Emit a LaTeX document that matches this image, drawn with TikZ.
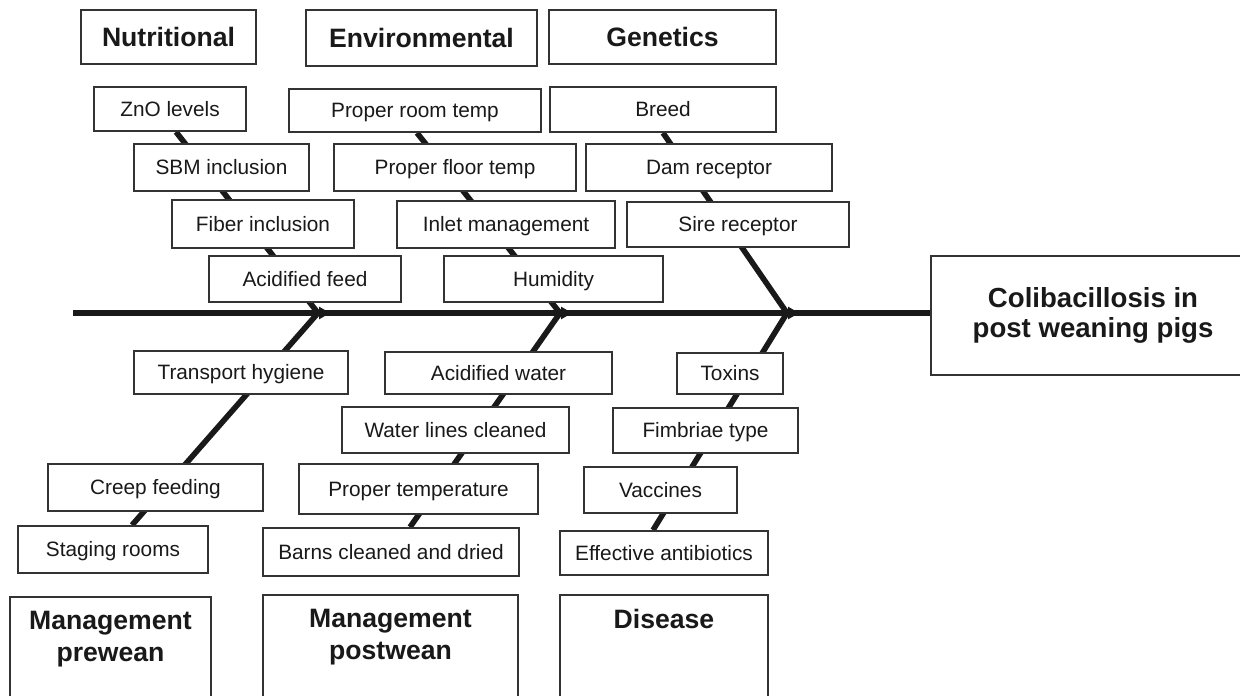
\documentclass[tikz,border=0pt]{standalone}
\usepackage{fontspec}
\setmainfont{Liberation Sans}
\usetikzlibrary{backgrounds}

\newcommand{\causefont}{\fontsize{10.4}{12.5}\selectfont}
\newcommand{\headfont}{\fontsize{13.3}{16}\selectfont\bfseries}
\newcommand{\effectfont}{\fontsize{13.8}{15}\selectfont\bfseries}

\begin{document}
\begin{tikzpicture}[x=0.5pt, y=-0.5pt, % 1 像素 = 0.5pt，y 轴向下
        cause/.style={draw=black!80, fill=white, line width=0.9pt, font=\causefont,
            text=black!90, inner sep=0pt, text height=7.4pt, text depth=0pt},
        head/.style={draw=black!80, fill=white, line width=1pt, font=\headfont,
            text=black!90, inner sep=0pt},
        cat/.style={head, text height=9.5pt, text depth=0pt},
        group/.style={head, anchor=north, align=center, inner ysep=7pt, text depth=50pt},
        bone/.style={line width=2.8pt, black!90},
        spine/.style={line width=3.4pt, black!90}
    ]
    \useasboundingbox (0,0) rectangle (1240,695); % 与原图同样大小

    % 上方三个类别
    \node[cat, minimum width=87.5pt, minimum height=27pt] (nutri) at (168.5,37) {Nutritional};
    \node[cat, minimum width=115.5pt, minimum height=28pt] (envir) at (421.5,38) {Environmental};
    \node[cat, minimum width=113.5pt, minimum height=27pt] (genet) at (662.5,37) {Genetics};

    % Nutritional 分支
    \node[cause, minimum width=76pt, minimum height=22pt] (zno) at (170,109) {ZnO levels};
    \node[cause, minimum width=87.5pt, minimum height=23.5pt] (sbm) at (221.5,167.5) {SBM inclusion};
    \node[cause, minimum width=91pt, minimum height=24pt] (fiber) at (263,224) {Fiber inclusion};
    \node[cause, minimum width=96pt, minimum height=23pt] (acidfeed) at (305,279) {Acidified feed};

    % Environmental 分支
    \node[cause, minimum width=126pt, minimum height=21.5pt] (roomtemp) at (415,110.5) {Proper room temp};
    \node[cause, minimum width=121pt, minimum height=23.5pt] (floortemp) at (455,167.5) {Proper floor temp};
    \node[cause, minimum width=109pt, minimum height=23.5pt] (inlet) at (506,224.5) {Inlet management};
    \node[cause, minimum width=109.5pt, minimum height=23pt] (humidity) at (553.5,279) {Humidity};

    % Genetics 分支
    \node[cause, minimum width=113pt, minimum height=22.5pt] (breed) at (663,109.5) {Breed};
    \node[cause, minimum width=123pt, minimum height=23.5pt] (dam) at (709,167.5) {Dam receptor};
    \node[cause, minimum width=111pt, minimum height=22.5pt] (sire) at (738,224.5) {Sire receptor};

    % Management prewean 分支
    \node[cause, minimum width=107pt, minimum height=21.5pt] (transport) at (241,372.5) {Transport hygiene};
    \node[cause, minimum width=107.5pt, minimum height=23.5pt] (creep) at (155.5,487.5) {Creep feeding};
    \node[cause, minimum width=95pt, minimum height=23.5pt] (staging) at (113,549.5) {Staging rooms};

    % Management postwean 分支
    \node[cause, minimum width=113.5pt, minimum height=21pt] (acidwater) at (498.5,373) {Acidified water};
    \node[cause, minimum width=113.5pt, minimum height=23pt] (waterlines) at (455.5,430) {Water lines cleaned};
    \node[cause, minimum width=119.5pt, minimum height=25pt] (propertemp) at (418.5,489) {Proper temperature};
    \node[cause, minimum width=128pt, minimum height=24pt] (barns) at (391,552) {Barns cleaned and dried};

    % Disease 分支
    \node[cause, minimum width=53pt, minimum height=20.5pt] (toxins) at (730,373.5) {Toxins};
    \node[cause, minimum width=92.5pt, minimum height=22.5pt] (fimbriae) at (705.5,430.5) {Fimbriae type};
    \node[cause, minimum width=76.5pt, minimum height=23pt] (vaccines) at (660.5,490) {Vaccines};
    \node[cause, minimum width=104pt, minimum height=22pt] (antibio) at (664,553) {Effective antibiotics};

    % 下方三个类别（底边超出画面）
    \node[group, minimum width=100.5pt] (prewean) at (110.5,596) {Management\\prewean};
    \node[group, minimum width=127.5pt] (postwean) at (390.5,594) {Management\\postwean};
    \node[group, minimum width=104pt] (disease) at (664,594) {Disease};

    % 结果（右边超出画面）
    \node[head, align=center, font=\effectfont, minimum width=162pt, minimum height=59.5pt]
        (effect) at (1093,315.5) {Colibacillosis in\\post weaning pigs};

    % 鱼骨的交点
    \coordinate (tail) at (73,313);
    \coordinate (j1) at (318,313);
    \coordinate (j2) at (560,313);
    \coordinate (j3) at (787,313);

    \begin{scope}[on background layer]
        % 主干
        \draw[spine] (tail) -- (tail -| effect.west);
        % 六根分支
        \draw[bone] ([xshift=3pt]zno.south) -- (j1) -- ([xshift=9.5pt]staging.north);
        \draw[bone] ([xshift=1pt]roomtemp.south) -- (j2) -- ([xshift=9.5pt]barns.north);
        \draw[bone] (breed.south) -- (j3) -- ([xshift=-5.5pt]antibio.north);
        % 主干上的小箭头
        \foreach \j in {j1,j2,j3}
            \fill[black!90] ([xshift=0.5pt]\j) -- ++(0,3.2pt) -- ++(5.5pt,-3.2pt) -- ++(-5.5pt,-3.2pt) -- cycle;
    \end{scope}

\end{tikzpicture}
\end{document}
